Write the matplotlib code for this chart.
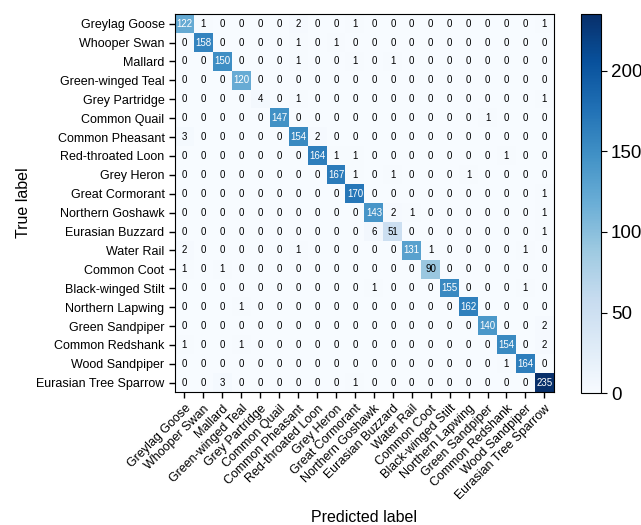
import matplotlib
matplotlib.use("Agg")
import matplotlib.pyplot as plt
import numpy as np

plt.rcParams['font.family'] = ['Liberation Sans', 'DejaVu Sans']

species = [
    "Greylag Goose", "Whooper Swan", "Mallard", "Green-winged Teal",
    "Grey Partridge", "Common Quail", "Common Pheasant", "Red-throated Loon",
    "Grey Heron", "Great Cormorant", "Northern Goshawk", "Eurasian Buzzard",
    "Water Rail", "Common Coot", "Black-winged Stilt", "Northern Lapwing",
    "Green Sandpiper", "Common Redshank", "Wood Sandpiper", "Eurasian Tree Sparrow",
]

# rows = true class, columns = predicted class
cm = np.array([
    [122, 1, 0, 0, 0, 0, 2, 0, 0, 1, 0, 0, 0, 0, 0, 0, 0, 0, 0, 1],
    [0, 158, 0, 0, 0, 0, 1, 0, 1, 0, 0, 0, 0, 0, 0, 0, 0, 0, 0, 0],
    [0, 0, 150, 0, 0, 0, 1, 0, 0, 1, 0, 1, 0, 0, 0, 0, 0, 0, 0, 0],
    [0, 0, 0, 120, 0, 0, 0, 0, 0, 0, 0, 0, 0, 0, 0, 0, 0, 0, 0, 0],
    [0, 0, 0, 0, 4, 0, 1, 0, 0, 0, 0, 0, 0, 0, 0, 0, 0, 0, 0, 1],
    [0, 0, 0, 0, 0, 147, 0, 0, 0, 0, 0, 0, 0, 0, 0, 0, 1, 0, 0, 0],
    [3, 0, 0, 0, 0, 0, 154, 2, 0, 0, 0, 0, 0, 0, 0, 0, 0, 0, 0, 0],
    [0, 0, 0, 0, 0, 0, 0, 164, 1, 1, 0, 0, 0, 0, 0, 0, 0, 1, 0, 0],
    [0, 0, 0, 0, 0, 0, 0, 0, 167, 1, 0, 1, 0, 0, 0, 1, 0, 0, 0, 0],
    [0, 0, 0, 0, 0, 0, 0, 0, 0, 170, 0, 0, 0, 0, 0, 0, 0, 0, 0, 1],
    [0, 0, 0, 0, 0, 0, 0, 0, 0, 0, 143, 2, 1, 0, 0, 0, 0, 0, 0, 1],
    [0, 0, 0, 0, 0, 0, 0, 0, 0, 0, 6, 51, 0, 0, 0, 0, 0, 0, 0, 1],
    [2, 0, 0, 0, 0, 0, 1, 0, 0, 0, 0, 0, 131, 1, 0, 0, 0, 0, 1, 0],
    [1, 0, 1, 0, 0, 0, 0, 0, 0, 0, 0, 0, 0, 90, 0, 0, 0, 0, 0, 0],
    [0, 0, 0, 0, 0, 0, 0, 0, 0, 0, 1, 0, 0, 0, 155, 0, 0, 0, 1, 0],
    [0, 0, 0, 1, 0, 0, 0, 0, 0, 0, 0, 0, 0, 0, 0, 162, 0, 0, 0, 0],
    [0, 0, 0, 0, 0, 0, 0, 0, 0, 0, 0, 0, 0, 0, 0, 0, 140, 0, 0, 2],
    [1, 0, 0, 1, 0, 0, 0, 0, 0, 0, 0, 0, 0, 0, 0, 0, 0, 154, 0, 2],
    [0, 0, 0, 0, 0, 0, 0, 0, 0, 0, 0, 0, 0, 0, 0, 0, 0, 1, 164, 0],
    [0, 0, 3, 0, 0, 0, 0, 0, 0, 1, 0, 0, 0, 0, 0, 0, 0, 0, 0, 235],
])

fig = plt.figure(figsize=(6.41, 5.25), dpi=100)
ax = fig.add_axes([0.273, 0.253, 0.591, 0.72])
cax = fig.add_axes([0.906, 0.251, 0.031, 0.722])

im = ax.imshow(cm, cmap="Blues", vmin=0, vmax=cm.max(), interpolation="nearest", aspect="auto")

# white text on dark cells, black on light ones
thresh = (cm.max() + cm.min()) / 2.0
n = len(species)
for i in range(n):
    for j in range(n):
        ax.text(j, i, str(cm[i, j]), ha="center", va="center", fontsize=7,
                color="white" if cm[i, j] > thresh else "black")

ax.set_xticks(np.arange(n))
ax.set_yticks(np.arange(n))
ax.set_xticklabels(species, rotation=45, ha="right", rotation_mode="anchor", fontsize=9)
ax.set_yticklabels(species, fontsize=9)
ax.set_xlabel("Predicted label", fontsize=11.5, labelpad=6)
ax.set_ylabel("True label", fontsize=11.5)
ax.tick_params(length=4, width=1)

cb = fig.colorbar(im, cax=cax)
cb.set_ticks([0, 50, 100, 150, 200])
cb.ax.tick_params(labelsize=13.5, length=4)

fig.savefig("out.png", dpi=100)
